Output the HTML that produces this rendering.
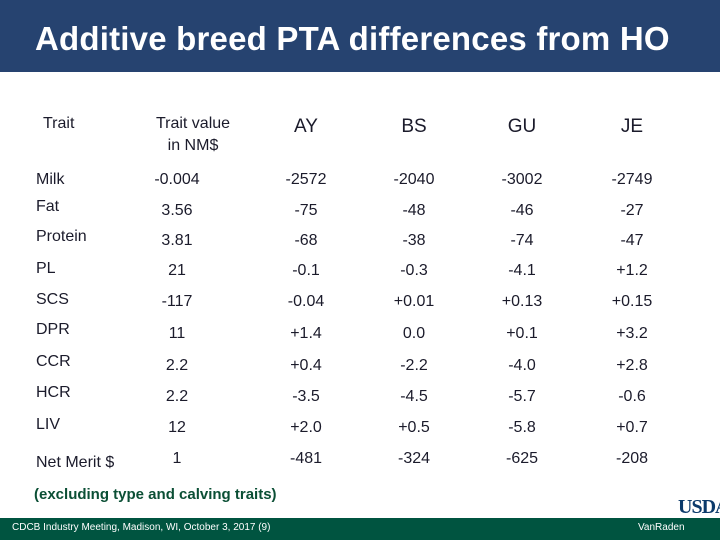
<!DOCTYPE html>
<html><head><meta charset="utf-8"><style>
body{margin:0;width:720px;height:540px;position:relative;overflow:hidden;background:#fff;font-family:"Liberation Sans",sans-serif;}
.t{position:absolute;font-size:16px;color:#1b1b2b;white-space:nowrap;transform:translate(-50%,-50%);}
.l{position:absolute;font-size:16px;color:#1b1b2b;white-space:nowrap;transform:translateY(-50%);}
</style></head><body>
<div style="position:absolute;left:0;top:0;width:720px;height:72px;background:#264370;"></div>
<div style="position:absolute;left:35px;top:20px;font-size:33px;font-weight:bold;color:#fff;letter-spacing:0.2px;">Additive breed PTA differences from HO</div>
<div id="tbl"></div>
<div style="position:absolute;left:34px;top:486px;font-size:15px;font-weight:bold;color:#0b4f35;">(excluding type and calving traits)</div>
<div style="position:absolute;left:0;top:518px;width:720px;height:22px;background:#005440;"></div>
<div style="position:absolute;left:12px;top:522px;font-size:10px;color:#fff;">CDCB Industry Meeting, Madison, WI, October 3, 2017 (9)</div>
<div style="position:absolute;left:638px;top:522px;font-size:10px;color:#fff;">VanRaden</div>
<div style="position:absolute;left:678px;top:496px;font-size:20px;font-weight:bold;color:#0b3a6b;font-family:'Liberation Serif',serif;letter-spacing:-1px;">USDA</div>
<script>
const traits=["Milk","Fat","Protein","PL","SCS","DPR","CCR","HCR","LIV","Net Merit $"];
const nmValues=["-0.004","3.56","3.81","21","-117","11","2.2","2.2","12","1"];
const ayValues=["-2572","-75","-68","-0.1","-0.04","+1.4","+0.4","-3.5","+2.0","-481"];
const bsValues=["-2040","-48","-38","-0.3","+0.01","0.0","-2.2","-4.5","+0.5","-324"];
const guValues=["-3002","-46","-74","-4.1","+0.13","+0.1","-4.0","-5.7","-5.8","-625"];
const jeValues=["-2749","-27","-47","+1.2","+0.15","+3.2","+2.8","-0.6","+0.7","-208"];
const labelY=[180,207,237,269,300,330,362,393,425,463];
const valY=[180,211,241,271,302,334,366,397,428,459];
const tbl=document.getElementById('tbl');
function add(cls,txt,x,y,name){const d=document.createElement('div');d.className=cls;d.textContent=txt;d.style.left=x+'px';d.style.top=y+'px';


tbl.appendChild(d);return d;}
add('l','Trait',43,124,'header-trait');
add('t','Trait value',193,124,'header-trait-value');
add('t','in NM$',193,146,'header-nm');
const heads=["AY","BS","GU","JE"],hx=[306,414,522,632];
heads.forEach((h,i)=>{const d=add('t',h,hx[i],127,'header-'+h.toLowerCase());d.style.fontSize='19px';});
const cols=[nmValues,ayValues,bsValues,guValues,jeValues],cx=[177,306,414,522,632];
traits.forEach((t,r)=>{
 add('l',t,36,labelY[r],'trait-label');
 cols.forEach((c,j)=>add('t',c[r],cx[j],valY[r],'cell-value'));
});
</script>
</body></html>
